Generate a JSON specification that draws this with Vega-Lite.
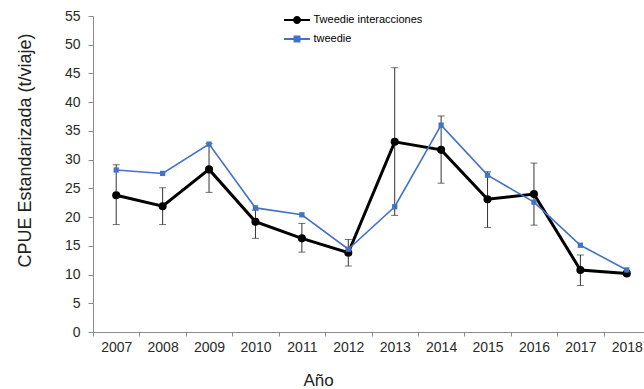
{
  "$schema": "https://vega.github.io/schema/vega-lite/v6.json",
  "autosize": {"type": "none"},
  "padding": {"left": 93, "top": 16, "right": 0, "bottom": 57},
  "width": 551,
  "height": 316,
  "background": "white",
  "config": {
    "view": {"stroke": null},
    "font": "Liberation Sans",
    "axis": {"grid": false, "domainColor": "#8c8c8c", "tickColor": "#8c8c8c", "labelColor": "#2a2a2a", "labelFontSize": 14, "titleFontWeight": "normal", "titleColor": "#222222"},
    "axisY": {"tickCount": 12, "labelOverlap": false, "tickSize": 5, "labelPadding": 8}
  },
  "data": {
    "values": [
      {"year": "2007", "serie": "Tweedie interacciones", "value": 23.8, "lo": 18.7, "hi": 29.1},
      {"year": "2008", "serie": "Tweedie interacciones", "value": 21.9, "lo": 18.7, "hi": 25.1},
      {"year": "2009", "serie": "Tweedie interacciones", "value": 28.3, "lo": 24.3, "hi": 32.8},
      {"year": "2010", "serie": "Tweedie interacciones", "value": 19.2, "lo": 16.3, "hi": 21.2},
      {"year": "2011", "serie": "Tweedie interacciones", "value": 16.3, "lo": 13.9, "hi": 18.9},
      {"year": "2012", "serie": "Tweedie interacciones", "value": 13.8, "lo": 11.5, "hi": 16.1},
      {"year": "2013", "serie": "Tweedie interacciones", "value": 33.1, "lo": 20.3, "hi": 46.0},
      {"year": "2014", "serie": "Tweedie interacciones", "value": 31.7, "lo": 25.9, "hi": 37.6},
      {"year": "2015", "serie": "Tweedie interacciones", "value": 23.1, "lo": 18.2, "hi": 27.9},
      {"year": "2016", "serie": "Tweedie interacciones", "value": 24.0, "lo": 18.6, "hi": 29.4},
      {"year": "2017", "serie": "Tweedie interacciones", "value": 10.8, "lo": 8.1, "hi": 13.4},
      {"year": "2018", "serie": "Tweedie interacciones", "value": 10.2, "lo": null, "hi": null},
      {"year": "2007", "serie": "tweedie", "value": 28.2, "lo": null, "hi": null},
      {"year": "2008", "serie": "tweedie", "value": 27.6, "lo": null, "hi": null},
      {"year": "2009", "serie": "tweedie", "value": 32.7, "lo": null, "hi": null},
      {"year": "2010", "serie": "tweedie", "value": 21.6, "lo": null, "hi": null},
      {"year": "2011", "serie": "tweedie", "value": 20.4, "lo": null, "hi": null},
      {"year": "2012", "serie": "tweedie", "value": 14.4, "lo": null, "hi": null},
      {"year": "2013", "serie": "tweedie", "value": 21.8, "lo": null, "hi": null},
      {"year": "2014", "serie": "tweedie", "value": 36.0, "lo": null, "hi": null},
      {"year": "2015", "serie": "tweedie", "value": 27.3, "lo": null, "hi": null},
      {"year": "2016", "serie": "tweedie", "value": 22.6, "lo": null, "hi": null},
      {"year": "2017", "serie": "tweedie", "value": 15.1, "lo": null, "hi": null},
      {"year": "2018", "serie": "tweedie", "value": 10.8, "lo": null, "hi": null}
    ]
  },
  "encoding": {
    "x": {
      "field": "year", "type": "nominal",
      "scale": {"type": "band", "range": [0, 557], "paddingInner": 0, "paddingOuter": 0},
      "axis": {"title": "Año", "titleFontSize": 17, "titleX": 225, "titleY": 48, "titleBaseline": "middle", "titleAlign": "center", "labelAngle": 0, "tickBand": "extent", "tickSize": 4, "labelPadding": 4}
    }
  },
  "layer": [
    {
      "transform": [{"filter": "datum.lo != null"}],
      "mark": {"type": "errorbar", "color": "#333333", "thickness": 1, "ticks": {"size": 7, "thickness": 1, "color": "#333333"}},
      "encoding": {
        "y": {
          "field": "lo", "type": "quantitative", "scale": {"domain": [0, 55], "nice": false},
          "axis": {
            "title": "CPUE Estandarizada  (t/viaje)", "titleFontSize": 18, "titleAngle": -90, "titleX": -68, "titleY": 134,
            "titleBaseline": "middle", "titleAlign": "center",
            "values": [0, 5, 10, 15, 20, 25, 30, 35, 40, 45, 50, 55], "tickCount": 12, "labelOverlap": false
          }
        },
        "y2": {"field": "hi"}
      }
    },
    {
      "transform": [{"filter": "datum.serie === 'Tweedie interacciones'"}],
      "mark": {"type": "line", "color": "black", "strokeWidth": 3},
      "encoding": {"y": {"field": "value", "type": "quantitative"}}
    },
    {
      "transform": [{"filter": "datum.serie === 'Tweedie interacciones'"}],
      "mark": {"type": "point", "shape": "circle", "filled": true, "color": "black", "size": 65, "opacity": 1},
      "encoding": {"y": {"field": "value", "type": "quantitative"}}
    },
    {
      "transform": [{"filter": "datum.serie === 'tweedie'"}],
      "mark": {"type": "line", "color": "#4472C4", "strokeWidth": 1.6},
      "encoding": {"y": {"field": "value", "type": "quantitative"}}
    },
    {
      "transform": [{"filter": "datum.serie === 'tweedie'"}],
      "mark": {"type": "point", "shape": "square", "filled": true, "color": "#4472C4", "size": 28, "opacity": 1},
      "encoding": {"y": {"field": "value", "type": "quantitative"}}
    },
    {
      "mark": {"type": "point", "filled": true, "opacity": 0, "size": 169, "strokeWidth": 2},
      "encoding": {
        "y": {"field": "value", "type": "quantitative"},
        "color": {
          "field": "serie", "type": "nominal",
          "scale": {"domain": ["Tweedie interacciones", "tweedie"], "range": ["black", "#4472C4"]},
          "legend": {
            "title": null, "orient": "none", "legendX": 196.5, "legendY": -3.5, "padding": 0, "rowPadding": 4,
            "labelOffset": 9, "labelFontSize": 11, "labelColor": "black", "symbolSize": 169, "symbolStrokeWidth": 2, "symbolOpacity": 1
          }
        },
        "stroke": {
          "field": "serie", "type": "nominal",
          "scale": {"domain": ["Tweedie interacciones", "tweedie"], "range": ["black", "#4472C4"]},
          "legend": {
            "title": null, "orient": "none", "legendX": 196.5, "legendY": -3.5, "padding": 0, "rowPadding": 4,
            "labelOffset": 9, "labelFontSize": 11, "labelColor": "black", "symbolSize": 169, "symbolStrokeWidth": 2, "symbolOpacity": 1
          }
        },
        "shape": {
          "field": "serie", "type": "nominal",
          "scale": {"domain": ["Tweedie interacciones", "tweedie"], "range": ["M-2,0H2M0.46,0A0.46,0.46,0,1,1,-0.46,0A0.46,0.46,0,1,1,0.46,0Z", "M-2,0H2M-0.38,-0.38H0.38V0.38H-0.38Z"]},
          "legend": {
            "title": null, "orient": "none", "legendX": 196.5, "legendY": -3.5, "padding": 0, "rowPadding": 4,
            "labelOffset": 9, "labelFontSize": 11, "labelColor": "black", "symbolSize": 169, "symbolStrokeWidth": 2, "symbolOpacity": 1
          }
        }
      }
    }
  ],
  "resolve": {"scale": {"y": "shared"}}
}
